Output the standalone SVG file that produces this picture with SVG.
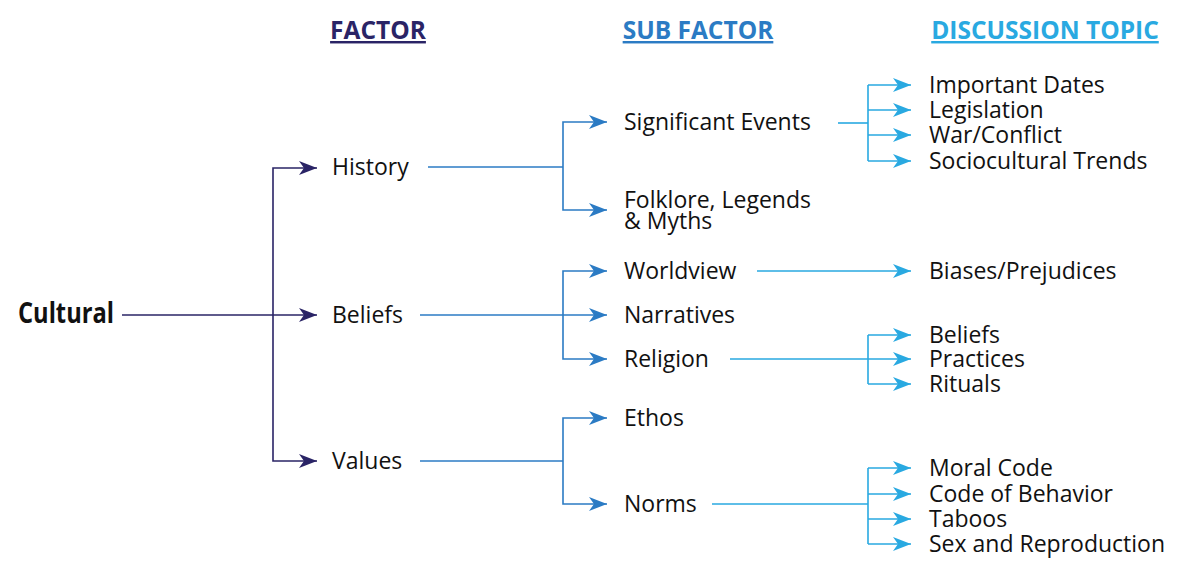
<svg xmlns="http://www.w3.org/2000/svg" width="1200" height="566" viewBox="0 0 1200 566">
<style>
text{font-family:"Open Sans","Liberation Sans",sans-serif;font-size:23px;fill:#111}
.h{font-weight:bold;font-size:24.5px;text-decoration:underline}
.n{stroke:#2a2466;stroke-width:1.6;fill:none}
.m{stroke:#2b7bc4;stroke-width:1.6;fill:none}
.l{stroke:#29a9e1;stroke-width:1.6;fill:none}
</style>
<defs>
<marker id="an" markerUnits="userSpaceOnUse" markerWidth="20" markerHeight="14" refX="18" refY="7" orient="auto"><path d="M0,0 L18,7 L0,14 L5,7 Z" fill="#2a2466"/></marker>
<marker id="am" markerUnits="userSpaceOnUse" markerWidth="20" markerHeight="14" refX="18" refY="7" orient="auto"><path d="M0,0 L18,7 L0,14 L5,7 Z" fill="#2b7bc4"/></marker>
<marker id="al" markerUnits="userSpaceOnUse" markerWidth="20" markerHeight="14" refX="18" refY="7" orient="auto"><path d="M0,0 L18,7 L0,14 L5,7 Z" fill="#29a9e1"/></marker>
</defs>
<g id="headers">
<text class="h" x="378" y="39" text-anchor="middle" style="fill:#2a2466">FACTOR</text>
<text class="h" x="698" y="39" text-anchor="middle" style="fill:#2b7bc4">SUB FACTOR</text>
<text class="h" x="1045" y="39" text-anchor="middle" style="fill:#29a9e1">DISCUSSION TOPIC</text>
</g>
<g id="connectors">
<path class="n" d="M122,315 H317" marker-end="url(#an)"/>
<path class="n" d="M273,315 V168 H317" marker-end="url(#an)"/>
<path class="n" d="M273,315 V461 H317" marker-end="url(#an)"/>
<path class="m" d="M428,167 H563"/>
<path class="m" d="M563,167 V122 H607" marker-end="url(#am)"/>
<path class="m" d="M563,167 V210 H607" marker-end="url(#am)"/>
<path class="m" d="M420,315 H607" marker-end="url(#am)"/>
<path class="m" d="M563,315 V271 H607" marker-end="url(#am)"/>
<path class="m" d="M563,315 V359 H607" marker-end="url(#am)"/>
<path class="m" d="M420,461 H563"/>
<path class="m" d="M563,461 V418 H607" marker-end="url(#am)"/>
<path class="m" d="M563,461 V504 H607" marker-end="url(#am)"/>
<path class="l" d="M838,123 H868"/>
<path class="l" d="M868,85 V161"/>
<path class="l" d="M868,85 H911" marker-end="url(#al)"/>
<path class="l" d="M868,110 H911" marker-end="url(#al)"/>
<path class="l" d="M868,135 H911" marker-end="url(#al)"/>
<path class="l" d="M868,161 H911" marker-end="url(#al)"/>
<path class="l" d="M757,271 H911" marker-end="url(#al)"/>
<path class="l" d="M730,359 H868"/>
<path class="l" d="M868,335 V384"/>
<path class="l" d="M868,335 H911" marker-end="url(#al)"/>
<path class="l" d="M868,359 H911" marker-end="url(#al)"/>
<path class="l" d="M868,384 H911" marker-end="url(#al)"/>
<path class="l" d="M712,504 H868"/>
<path class="l" d="M868,468 V544"/>
<path class="l" d="M868,468 H911" marker-end="url(#al)"/>
<path class="l" d="M868,494 H911" marker-end="url(#al)"/>
<path class="l" d="M868,519 H911" marker-end="url(#al)"/>
<path class="l" d="M868,544 H911" marker-end="url(#al)"/>
</g>
<g id="cultural"><text x="18" y="323" style="font-family:'Liberation Sans Narrow','Open Sans',sans-serif;font-weight:bold;font-size:28px" textLength="96" lengthAdjust="spacingAndGlyphs">Cultural</text></g>
<g id="history"><text x="332" y="175">History</text></g>
<g id="beliefs"><text x="332" y="323">Beliefs</text></g>
<g id="values"><text x="332" y="469">Values</text></g>
<g id="significant"><text x="624" y="130">Significant Events</text></g>
<g id="folklore"><text x="624" y="208">Folklore, Legends</text><text x="624" y="229">&amp; Myths</text></g>
<g id="worldview"><text x="624" y="279">Worldview</text></g>
<g id="narratives"><text x="624" y="323">Narratives</text></g>
<g id="religion"><text x="624" y="367">Religion</text></g>
<g id="ethos"><text x="624" y="426">Ethos</text></g>
<g id="norms"><text x="624" y="512">Norms</text></g>
<g id="t1"><text x="929" y="93">Important Dates</text></g>
<g id="t2"><text x="929" y="118">Legislation</text></g>
<g id="t3"><text x="929" y="143">War/Conflict</text></g>
<g id="t4"><text x="929" y="169">Sociocultural Trends</text></g>
<g id="t5"><text x="929" y="279">Biases/Prejudices</text></g>
<g id="t6"><text x="929" y="343">Beliefs</text></g>
<g id="t7"><text x="929" y="367">Practices</text></g>
<g id="t8"><text x="929" y="392">Rituals</text></g>
<g id="t9"><text x="929" y="476">Moral Code</text></g>
<g id="t10"><text x="929" y="502">Code of Behavior</text></g>
<g id="t11"><text x="929" y="527">Taboos</text></g>
<g id="t12"><text x="929" y="552">Sex and Reproduction</text></g>
</svg>
